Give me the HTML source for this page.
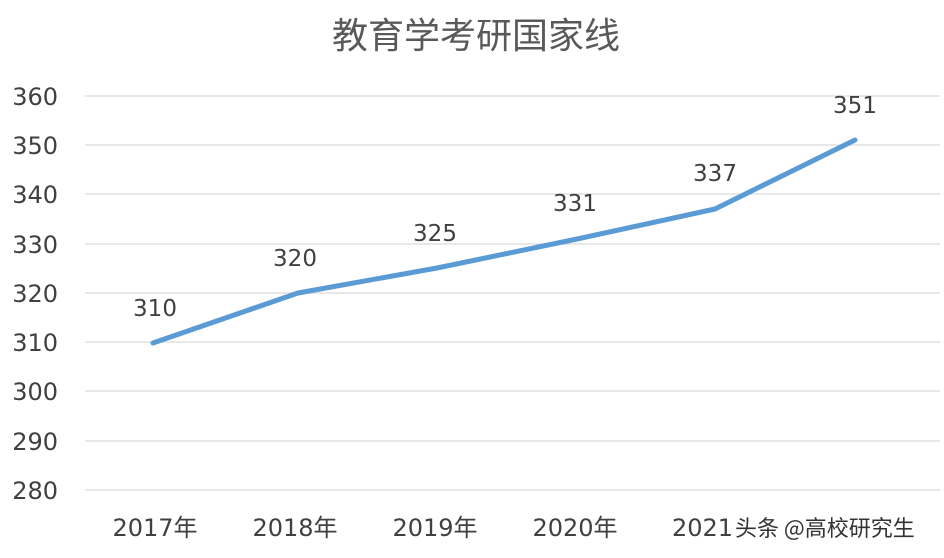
<!DOCTYPE html>
<html><head><meta charset="utf-8"><style>
html,body{margin:0;padding:0;background:#fff}
svg{display:block}
text{font-family:"DejaVu Sans","Noto Sans CJK SC",sans-serif}
</style></head><body>
<svg width="944" height="558" viewBox="0 0 944 558" xmlns="http://www.w3.org/2000/svg">
<rect width="944" height="558" fill="#fff"/>
<text x="476" y="48" font-size="36" fill="#595959" text-anchor="middle" style="font-family:'Noto Sans CJK SC',sans-serif">教育学考研国家线</text>
<g stroke="#d9d9d9" stroke-width="1.2">
<line x1="85" x2="940" y1="96" y2="96"/><line x1="85" x2="940" y1="145" y2="145"/>
<line x1="85" x2="940" y1="194" y2="194"/><line x1="85" x2="940" y1="244" y2="244"/>
<line x1="85" x2="940" y1="293" y2="293"/><line x1="85" x2="940" y1="342" y2="342"/>
<line x1="85" x2="940" y1="391" y2="391"/><line x1="85" x2="940" y1="441" y2="441"/>
<line x1="85" x2="940" y1="490" y2="490"/>
</g>
<g font-size="24" fill="#404040" text-anchor="end">
<text x="58" y="105">360</text><text x="58" y="154">350</text><text x="58" y="203">340</text>
<text x="58" y="253">330</text><text x="58" y="302">320</text><text x="58" y="351">310</text>
<text x="58" y="400">300</text><text x="58" y="450">290</text><text x="58" y="499">280</text>
</g>
<polyline points="153,343 298,293 437,268 577,239 715,209 855,140" fill="none" stroke="#5b9bd5" stroke-width="5" stroke-linejoin="round" stroke-linecap="round"/>
<g font-size="23" fill="#404040" text-anchor="middle">
<text x="155" y="316">310</text><text x="295" y="266">320</text><text x="435" y="241">325</text>
<text x="575" y="211">331</text><text x="715" y="181">337</text><text x="855" y="113">351</text>
</g>
<g font-size="24" fill="#404040" text-anchor="middle">
<text x="155" y="536">2017年</text><text x="295" y="536">2018年</text><text x="435" y="536">2019年</text>
<text x="575" y="536">2020年</text>
</g>
<text x="672" y="536" font-size="24" fill="#404040">2021</text>
<text x="735" y="536" font-size="22" fill="#333" style="font-family:'Noto Sans CJK SC',sans-serif">头条 @高校研究生</text>
</svg>
</body></html>
